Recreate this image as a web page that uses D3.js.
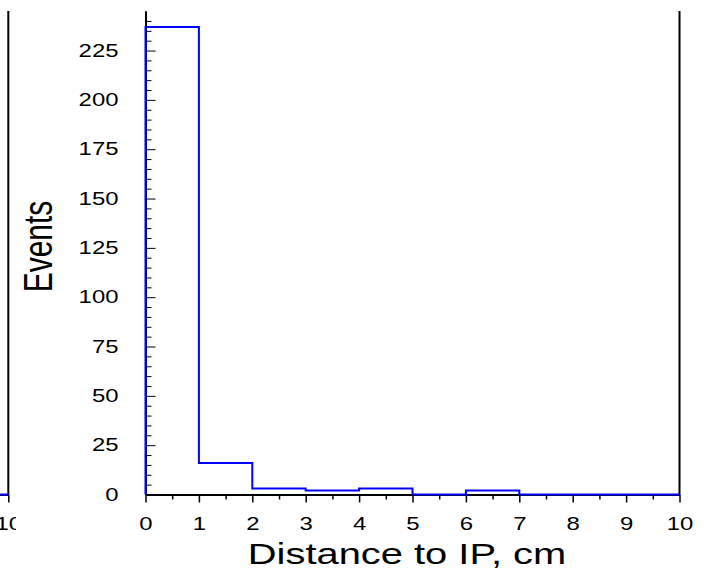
<!DOCTYPE html>
<html>
<head>
<meta charset="utf-8">
<script src="https://cdn.jsdelivr.net/npm/d3@7"></script>
<style>
  body { margin: 0; background: #fff; }
  svg { display: block; font-family: "Liberation Sans", Arial, Helvetica, sans-serif; }
  .axis path { stroke: #000; stroke-width: 2; }
  .axis line { stroke: #000; stroke-width: 1.5; }
  .y-axis line, .y-minor line { stroke-width: 1; }
  .axis text { fill: #000; font-size: 18px; }
</style>
</head>
<body>
<div id="chart"></div>
<script>
// histogram bins, 1 cm wide
const binEdges = [0, 1, 2, 3, 4, 5, 6, 7, 8, 9, 10];
const counts = [237, 16, 3, 2, 3, 0, 2, 0, 0, 0];
const xTicks = [0, 1, 2, 3, 4, 5, 6, 7, 8, 9, 10];
const yTicks = [0, 25, 50, 75, 100, 125, 150, 175, 200, 225];
// tail of the neighbouring panel cut off at the left edge
const prevEdges = [9, 10];
const prevCounts = [0];

const width = 707, height = 576;
const stretch = 1.33; // glyphs in the picture are wide

const svg = d3.select('#chart')
    .append('svg')
    .attr('width', width)
    .attr('height', height);

svg.append('rect').attr('width', width).attr('height', height).attr('fill', '#fff');

const x = d3.scaleLinear().domain([0, 10]).range([145.5, 679.5]);
const y = d3.scaleLinear().domain([0, 245]).range([494.5, 11.1]);

// step outline of the histogram
function stepPoints(edges, vals) {
    let pts = [[edges[0], 0]];
    vals.forEach((v, i) => {
        pts.push([edges[i], v]);
        pts.push([edges[i + 1], v]);
    });
    pts.push([edges[edges.length - 1], 0]);
    return pts;
}

// ---- neighbouring panel (only its right edge shows) ----
const xPrev = d3.scaleLinear().domain([0, 10]).range([8.3 - 534, 8.3]);
svg.append('clipPath').attr('id', 'prevClip')
    .append('rect').attr('x', 0).attr('y', 0).attr('width', 16).attr('height', height);
const prev = svg.append('g').attr('clip-path', 'url(#prevClip)');

prev.append('g')
    .attr('class', 'axis')
    .attr('transform', `translate(0,${y(0)})`)
    .call(d3.axisBottom(xPrev).tickValues([10]).tickSize(8).tickSizeOuter(0).tickPadding(15))
    .selectAll('text').attr('transform', `scale(${stretch},1)`);
prev.append('line')
    .attr('x1', xPrev(10)).attr('x2', xPrev(10))
    .attr('y1', y(0)).attr('y2', y(245))
    .attr('stroke', '#000').attr('stroke-width', 2);
prev.append('path')
    .datum(stepPoints(prevEdges, prevCounts))
    .attr('fill', 'none')
    .attr('stroke', '#0000ff')
    .attr('stroke-width', 2)
    .attr('d', d3.line().x(d => xPrev(d[0])).y(d => y(d[1])));

// ---- main panel ----
// x axis: major ticks on integers, minor on halves
svg.append('g')
    .attr('class', 'axis')
    .attr('transform', `translate(0,${y(0)})`)
    .call(d3.axisBottom(x).tickValues(d3.range(0.5, 10, 1)).tickSize(5).tickFormat('').tickSizeOuter(0));
svg.append('g')
    .attr('class', 'axis x-axis')
    .attr('transform', `translate(0,${y(0)})`)
    .call(d3.axisBottom(x).tickValues(xTicks).tickSize(8).tickSizeOuter(0).tickPadding(15))
    .selectAll('text').attr('transform', `scale(${stretch},1)`);

// y axis: ticks point into the plot
svg.append('g')
    .attr('class', 'axis y-minor')
    .attr('transform', `translate(${x(0)},0)`)
    .call(d3.axisLeft(y).tickValues(d3.range(5, 245, 5).filter(v => v % 25 !== 0)).tickSize(-6).tickFormat('').tickSizeOuter(0));
svg.append('g')
    .attr('class', 'axis y-axis')
    .attr('transform', `translate(${x(0)},0)`)
    .call(d3.axisLeft(y).tickValues(yTicks).tickSize(-10).tickSizeOuter(0))
    .selectAll('text')
    .attr('x', 0)
    .attr('transform', `translate(-27,0) scale(${stretch},1)`);

// right frame line
svg.append('line')
    .attr('x1', x(10)).attr('x2', x(10))
    .attr('y1', y(0)).attr('y2', y(245))
    .attr('stroke', '#000').attr('stroke-width', 2);

// histogram
svg.append('path')
    .datum(stepPoints(binEdges, counts))
    .attr('fill', 'none')
    .attr('stroke', '#0000ff')
    .attr('stroke-width', 2)
    .attr('d', d3.line().x(d => x(d[0])).y(d => y(d[1])));

// axis titles
svg.append('text')
    .attr('transform', `translate(407,564) scale(${stretch},1)`)
    .attr('text-anchor', 'middle')
    .style('font-size', '30px')
    .text('Distance to IP, cm');

svg.append('text')
    .attr('transform', `translate(52,246.5) scale(${stretch},1) rotate(-90)`)
    .attr('text-anchor', 'middle')
    .style('font-size', '30px')
    .text('Events');
</script>
</body>
</html>
